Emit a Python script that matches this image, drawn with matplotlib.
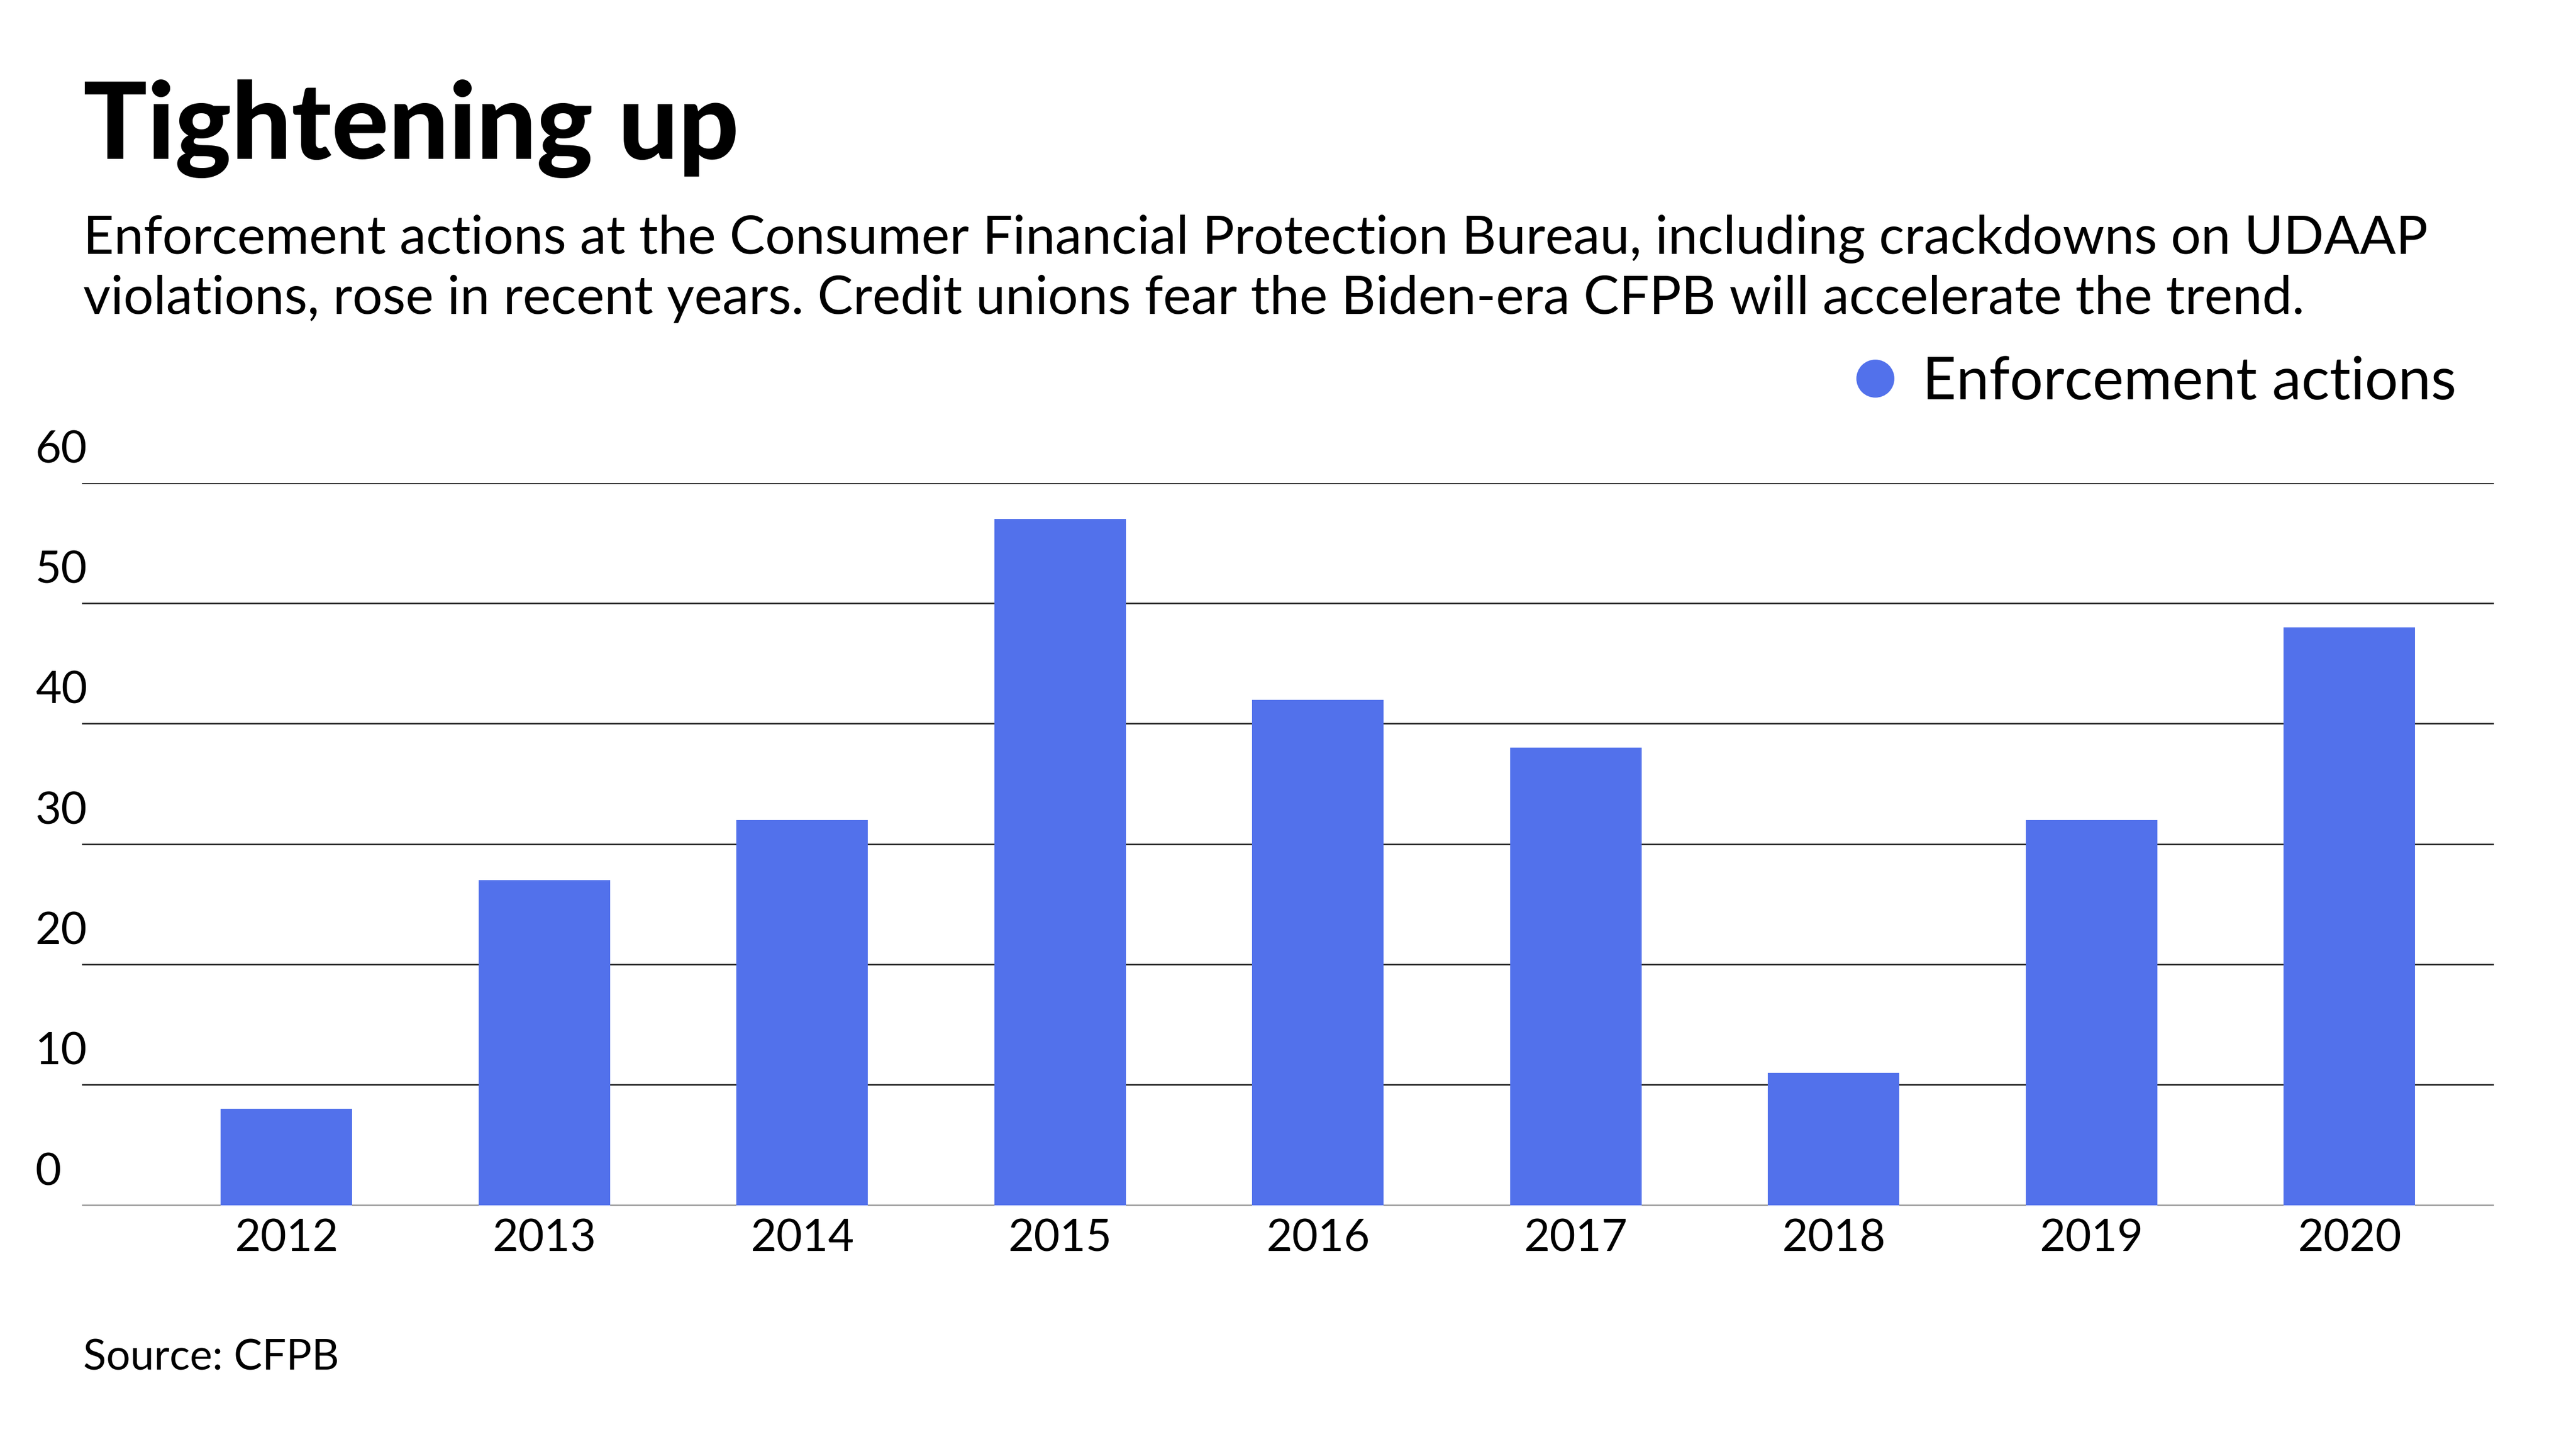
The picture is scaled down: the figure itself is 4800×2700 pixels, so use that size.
import matplotlib
matplotlib.use("Agg")
import matplotlib.pyplot as plt
from matplotlib.lines import Line2D
from matplotlib.transforms import ScaledTranslation

# --- data ---
years = ["2012", "2013", "2014", "2015", "2016", "2017", "2018", "2019", "2020"]
actions = [8, 27, 32, 57, 42, 38, 11, 32, 48]
y_ticks = [0, 10, 20, 30, 40, 50, 60]

BAR_COLOR = "#5271eb"
GRID_COLOR = "#2b2b2b"

plt.rcParams["font.family"] = ["Lato", "DejaVu Sans"]

fig = plt.figure(figsize=(16, 9), dpi=300)
ax = fig.add_axes([0.0319, 0.1683, 0.9362, 0.4984])

x = list(range(len(years)))
ax.bar(x, actions, width=0.51, color=BAR_COLOR, zorder=2)

ax.set_xlim(-0.792, 8.56)
ax.set_ylim(0, 60)
ax.set_yticks(y_ticks)
ax.set_yticklabels([str(v) for v in y_ticks])
ax.set_xticks(x)
ax.set_xticklabels(years)

for s in ax.spines.values():
    s.set_visible(False)
ax.grid(axis="y", color=GRID_COLOR, linewidth=0.7, zorder=1)
ax.set_axisbelow(True)
ax.tick_params(axis="both", length=0, labelsize=20, colors="black")
ax.tick_params(axis="x", pad=6)
ax.tick_params(axis="y", pad=21)

# y labels sit left-aligned just above their gridline
offset = ScaledTranslation(0, 9 / 72, fig.dpi_scale_trans)
for lab in ax.get_yticklabels():
    lab.set_horizontalalignment("left")
    lab.set_verticalalignment("baseline")
    lab.set_transform(lab.get_transform() + offset)

# titles
fig.text(0.0323, 0.8904, "Tightening up", fontsize=47.5, fontweight="black",
         va="baseline", ha="left")
fig.text(0.0323, 0.8248,
         "Enforcement actions at the Consumer Financial Protection Bureau, including crackdowns on UDAAP",
         fontsize=23.8, va="baseline", ha="left")
fig.text(0.0323, 0.7835,
         "violations, rose in recent years. Credit unions fear the Biden-era CFPB will accelerate the trend.",
         fontsize=23.8, va="baseline", ha="left")

# legend
handle = Line2D([], [], marker="o", linestyle="", color=BAR_COLOR, markersize=16)
ax.legend([handle], ["Enforcement actions"], loc="center right",
          bbox_to_anchor=(0.9535, 0.7360), bbox_transform=fig.transFigure,
          frameon=False, fontsize=26.3, handlelength=0.7, handletextpad=0.45,
          borderpad=0, borderaxespad=0)

fig.text(0.0323, 0.0548, "Source: CFPB", fontsize=19, va="baseline", ha="left")

fig.savefig("out.png", dpi=300)
plt.close(fig)
